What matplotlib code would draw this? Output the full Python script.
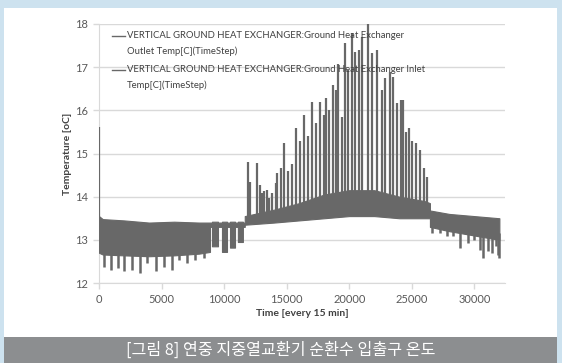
import matplotlib
matplotlib.use("Agg")
import matplotlib.pyplot as plt
import numpy as np
from matplotlib.patches import Rectangle

plt.rcParams['font.family'] = ['Lato', 'DejaVu Sans']

# dense daily band of both temperature series (time step, upper / lower edge)
band_t = [0, 300, 2000, 4000, 6000, 8000, 8870,
          8870, 9030, 9030, 9510, 9510, 9830, 9830, 10230, 10230, 10470,
          10470, 10870, 10870, 11100, 11100, 11500, 11500, 11650,
          11650, 14000, 16000, 18000, 20000, 22000, 24000, 26000, 26450,
          26450, 28000, 30000, 32000]
band_hi = [13.55, 13.48, 13.45, 13.4, 13.42, 13.4, 13.4,
           13.4, 13.4, 13.42, 13.42, 13.4, 13.4, 13.42, 13.42, 13.4, 13.4,
           13.42, 13.42, 13.4, 13.4, 13.42, 13.42, 13.4, 13.4,
           13.55, 13.7, 13.85, 14.05, 14.15, 14.15, 14.0, 13.9, 13.85,
           13.68, 13.6, 13.55, 13.5]
band_lo = [12.7, 12.66, 12.64, 12.62, 12.64, 12.68, 12.72,
           13.3, 13.3, 12.85, 12.85, 13.3, 13.3, 12.72, 12.72, 13.3, 13.3,
           12.82, 12.82, 13.3, 13.3, 12.95, 12.95, 13.3, 13.3,
           13.35, 13.4, 13.45, 13.5, 13.55, 13.55, 13.5, 13.5, 13.5,
           13.3, 13.2, 13.1, 13.0]

# weekly low dips (heating season and autumn)
dip_t = [400, 960, 1520, 2000, 2640, 3280, 3840, 4550, 5200, 5830, 6390,
         7030, 7670, 8390,
         26600, 27250, 27800, 28290, 28850, 29480, 29960, 30440, 30680,
         31080, 31400, 31720, 31880, 32000]
dip_lo = [12.38, 12.31, 12.35, 12.27, 12.31, 12.24, 12.47, 12.27, 12.38,
          12.31, 12.54, 12.46, 12.54, 12.58,
          13.15, 13.15, 13.1, 13.1, 12.81, 12.93, 13.0, 12.77, 12.58,
          12.75, 12.7, 12.85, 12.65, 12.58]

# cooling season peaks
spike_t = [30, 11880, 12100, 12660, 12860, 13020, 13220, 13420, 13620,
           13860, 14140, 14260, 14580, 14780, 15100, 15420, 15740, 16060,
           16380, 16700, 17020, 17340, 17660, 17980, 18140, 18380, 18700,
           18940, 19140, 19420, 19660, 19940, 20210, 20450, 20770, 21010,
           21490, 21810, 22210, 22610, 22850, 23250, 23490, 23810, 24130,
           24290, 24530, 24770, 25010, 25330, 25650, 25970, 26210]
spike_hi = [15.62, 14.81, 14.35, 14.78, 14.27, 14.08, 14.12, 14.16, 13.96,
            14.08, 14.31, 14.54, 14.66, 15.25, 14.6, 14.75, 15.6, 15.3,
            15.9, 15.4, 16.2, 15.7, 16.2, 15.9, 16.29, 16.0, 16.59,
            16.47, 17.08, 15.85, 17.55, 16.93, 17.78, 17.36, 17.4, 17.7,
            18.0, 17.33, 17.4, 16.47, 16.75, 16.89, 16.78, 16.17, 16.24,
            16.24, 15.5, 15.59, 15.3, 15.24, 15.08, 14.67, 14.46]

series_labels = ['VERTICAL GROUND HEAT EXCHANGER:Ground Heat Exchanger\nOutlet Temp[C](TimeStep)',
                 'VERTICAL GROUND HEAT EXCHANGER:Ground Heat Exchanger Inlet\nTemp[C](TimeStep)']
caption = '[그림 8] 연중 지중열교환기 순환수 입출구 온도'

line_color = '#686868'
grid_color = '#d9d9d9'
text_color = '#595959'

fig = plt.figure(figsize=(5.62, 3.63), dpi=100, facecolor='#cde2ef')
W, H = 562, 363

# white panel and caption bar behind the axes
fig.patches.append(Rectangle((4 / W, 1 - 337 / H), 553 / W, 329 / H,
                             transform=fig.transFigure, facecolor='white',
                             edgecolor='none', zorder=-2))
fig.patches.append(Rectangle((4 / W, 0), 553 / W, 26 / H,
                             transform=fig.transFigure, facecolor='#8c8e90',
                             edgecolor='none', zorder=-2))
fig.text(281 / W, 13 / H, caption, color='white', fontsize=11.6,
         ha='center', va='center', family=['Noto Sans CJK KR', 'DejaVu Sans'])

ax = fig.add_axes([99 / W, 1 - 283 / H, 406 / W, 259 / H])
ax.set_facecolor('none')

ax.fill_between(band_t, band_lo, band_hi, color=line_color, lw=0.8, zorder=3)
dip_top = np.interp(dip_t, band_t, band_lo) + 0.15
ax.vlines(dip_t, dip_lo, dip_top, color=line_color, lw=1.8, zorder=3)
spike_base = np.interp(spike_t, band_t, band_hi) - 0.15
ax.vlines(spike_t, spike_base, spike_hi, color=line_color, lw=1.6, zorder=3)

ax.set_xlim(0, 32450)
ax.set_ylim(12, 18)
ax.set_xticks(range(0, 30001, 5000))
ax.set_yticks(range(12, 19))
ax.yaxis.grid(True, color=grid_color, lw=1.0, zorder=0)
ax.set_axisbelow(True)
for side in ['top', 'right']:
    ax.spines[side].set_visible(False)
ax.spines['left'].set_color(grid_color)
ax.spines['bottom'].set_color(grid_color)
ax.tick_params(axis='both', colors=grid_color, labelcolor=text_color,
               labelsize=8, length=4, width=1, pad=4)

ax.set_xlabel('Time [every 15 min]', fontsize=7.5, fontweight='bold',
              color='#404040', labelpad=3)
ax.set_ylabel('Temperature [oC]', fontsize=7.5, fontweight='bold',
              color='#404040', labelpad=2)

# legend: short line at the first text row of each wrapped label
row_y = [36, 70]
for label, y in zip(series_labels, row_y):
    fig.add_artist(plt.Line2D([112 / W, 125 / W], [1 - y / H, 1 - y / H],
                              color=line_color, lw=1))
    for k, row in enumerate(label.split('\n')):
        fig.text(127 / W, 1 - (y + 15 * k) / H, row, fontsize=6.8,
                 color='#404040', ha='left', va='center')

plt.savefig('out.png', dpi=100, facecolor=fig.get_facecolor())
plt.close()
